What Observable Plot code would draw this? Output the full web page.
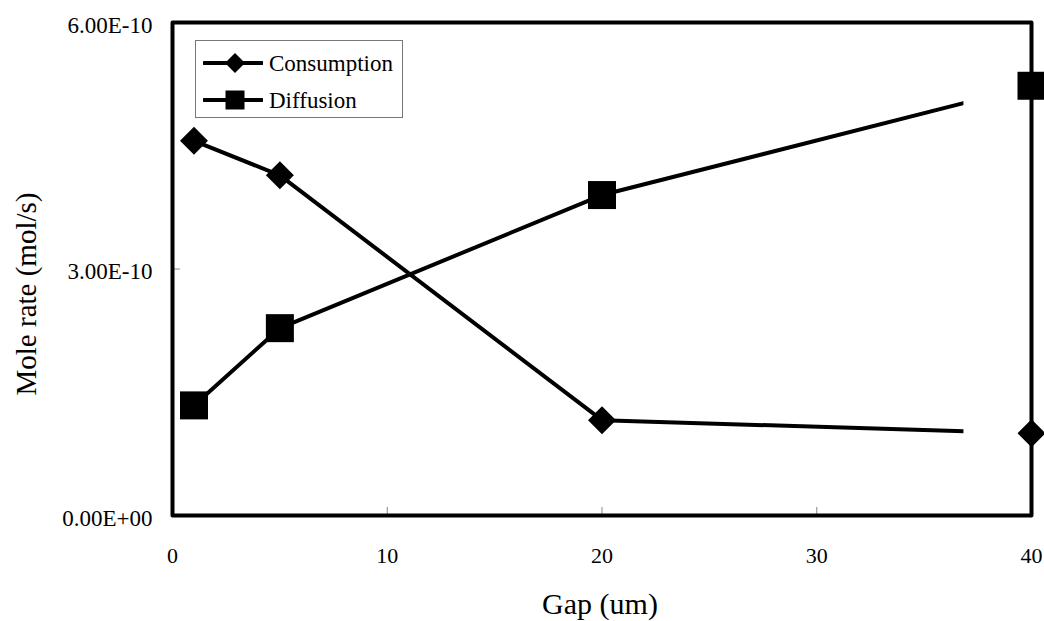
<!DOCTYPE html>
<html>
<head>
<meta charset="utf-8">
<script src="https://cdn.jsdelivr.net/npm/d3@7"></script>
<script src="https://cdn.jsdelivr.net/npm/@observablehq/plot@0.6"></script>
<style>
  html, body { margin: 0; padding: 0; background: #fff; }
  #wrap { position: relative; width: 1044px; height: 621px; overflow: hidden; }
  #wrap svg text { font-family: "Liberation Serif", Tinos, "Times New Roman", Times, "DejaVu Serif", serif; }
  g[aria-label="x-axis tick label"] text { font-size: 22px; }
  g[aria-label="y-axis tick label"] text { font-size: 23px; }
  #legend {
    position: absolute; left: 195px; top: 40px; width: 206px; height: 76px;
    border: 1px solid #777; background: #fff;
    font-family: "Liberation Serif", Tinos, "Times New Roman", Times, "DejaVu Serif", serif; font-size: 23px; color: #000;
  }
  .row { position: absolute; left: 7px; height: 30px; display: flex; align-items: center; }
  .row svg { display: block; }
  .row span { margin-left: 6px; line-height: 1; }
</style>
</head>
<body>
<div id="wrap"></div>
<script>
// ---- data ----
const gaps = [1, 5, 20, 40];
const consumption = [4.56e-10, 4.14e-10, 1.16e-10, 1.00e-10];
const diffusion = [1.34e-10, 2.28e-10, 3.90e-10, 5.23e-10];
const seriesNames = ["Consumption", "Diffusion"];
const xTicks = [0, 10, 20, 30, 40];
const yTicks = [0, 3e-10, 6e-10];
const yTickLabels = ["0.00E+00", "3.00E-10", "6.00E-10"];
const xTitle = "Gap (um)";
const yTitle = "Mole rate (mol/s)";
const lineCutGap = 36.83; // the connecting lines stop here in the original

const consData = gaps.map((g, i) => ({gap: g, value: consumption[i]}));
const diffData = gaps.map((g, i) => ({gap: g, value: diffusion[i]}));

const W = 1044, H = 621;
const mL = 172, mR = 13, mT = 22, mB = 106;
const plotW = W - mL - mR, plotH = H - mT - mB;

const chart = Plot.plot({
  width: W, height: H,
  marginLeft: mL, marginRight: mR, marginTop: mT, marginBottom: mB,
  style: {background: "#fff", color: "#000"},
  x: {domain: [0, 40]},
  y: {domain: [0, 6e-10]},
  marks: [
    Plot.ruleX(xTicks.slice(1, -1), {x: d => d, stroke: "#888", strokeWidth: 1, insetTop: plotH - 8}),
    Plot.ruleY(yTicks.slice(1, -1), {y: d => d, stroke: "#888", strokeWidth: 1, insetRight: plotW - 8}),
    Plot.axisX({ticks: xTicks, tickSize: 0, tickPadding: 32, tickFormat: d => String(d), label: null}),
    Plot.axisY({ticks: yTicks, tickSize: 0, tickPadding: 20, tickFormat: d => yTickLabels[yTicks.indexOf(d)], dy: 3, label: null}),
    Plot.lineY(consData, {x: "gap", y: "value", stroke: "#000", strokeWidth: 4}),
    Plot.lineY(diffData, {x: "gap", y: "value", stroke: "#000", strokeWidth: 4}),
    Plot.dot(consData, {x: "gap", y: "value", symbol: d3.symbolDiamond2, r: 12.6, fill: "#000", stroke: "none"}),
    Plot.dot(diffData, {x: "gap", y: "value", symbol: d3.symbolSquare, r: 15.8, fill: "#000", stroke: "none"}),
    Plot.frame({stroke: "#000", strokeWidth: 4, strokeLinejoin: "round"}),
    Plot.text([xTitle], {frameAnchor: "bottom", textAnchor: "middle", lineAnchor: "middle", dy: 89, dx: -2, fontSize: 30, fill: "#000"}),
    Plot.text([yTitle], {frameAnchor: "left", textAnchor: "middle", lineAnchor: "middle", rotate: -90, dx: -146, dy: 25, fontSize: 29, fill: "#000"})
  ]
});

// truncate connecting lines where the original stops them
const xs = chart.scale("x");
const cutPx = xs.apply(lineCutGap);
const ns = "http://www.w3.org/2000/svg";
const defs = document.createElementNS(ns, "defs");
const cp = document.createElementNS(ns, "clipPath");
cp.setAttribute("id", "lineCut");
const rect = document.createElementNS(ns, "rect");
rect.setAttribute("x", 0); rect.setAttribute("y", 0);
rect.setAttribute("width", cutPx); rect.setAttribute("height", H);
cp.appendChild(rect); defs.appendChild(cp);
chart.insertBefore(defs, chart.firstChild);
chart.querySelectorAll('g[aria-label="line"]').forEach(g => g.setAttribute("clip-path", "url(#lineCut)"));

const wrap = document.getElementById("wrap");
wrap.appendChild(chart);

// legend
const legend = document.createElement("div");
legend.id = "legend";
const symbols = [d3.symbolDiamond2, d3.symbolSquare];
const sizes = [255, 361];
seriesNames.forEach((name, i) => {
  const row = document.createElement("div");
  row.className = "row";
  row.style.top = (i === 0 ? 7 : 44) + "px";
  const svg = d3.create("svg").attr("width", 60).attr("height", 30);
  svg.append("line").attr("x1", 1).attr("x2", 59).attr("y1", 15).attr("y2", 15)
    .attr("stroke", "#000").attr("stroke-width", 4).attr("stroke-linecap", "round");
  svg.append("path").attr("transform", "translate(32,15)")
    .attr("d", d3.symbol(symbols[i], sizes[i])()).attr("fill", "#000");
  row.appendChild(svg.node());
  const span = document.createElement("span");
  span.textContent = name;
  row.appendChild(span);
  legend.appendChild(row);
});
wrap.appendChild(legend);
</script>
</body>
</html>
